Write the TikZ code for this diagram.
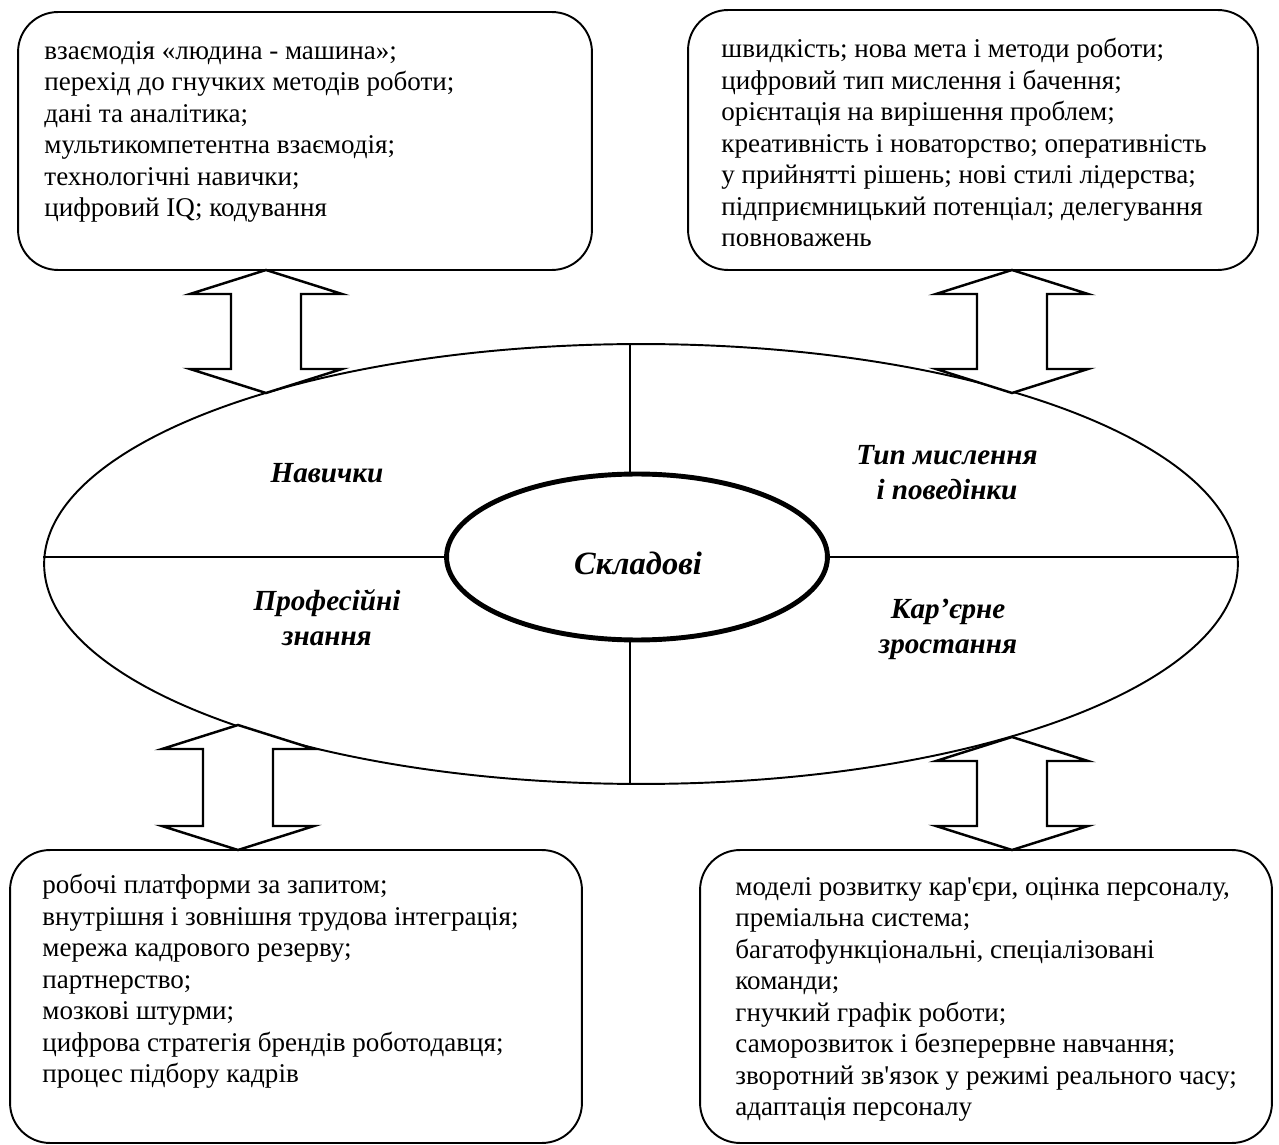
\documentclass[tikz,border=0pt]{standalone}
\usepackage{fontspec}
\setmainfont{Liberation Serif}[Ligatures=TeXOff]
\usetikzlibrary{positioning,shapes.geometric,calc}
\newcommand{\dblarrow}[2]{\draw[blockarrow] (#1) -- ++(-76,24) -- ++(41,0) -- ($(#2)+(-35,-24)$) -- ++(-41,0) -- (#2) -- ++(76,-24) -- ++(-41,0) -- ($(#1)+(35,24)$) -- ++(41,0) -- cycle;}

\begin{document}
\begin{tikzpicture}[x=0.02cm, y=-0.02cm, line join=miter]
\tikzstyle{box}=[rectangle, rounded corners=0.8cm, draw=black, line width=1.1pt, inner sep=0pt]
\tikzstyle{list}=[anchor=north west, inner sep=0pt, align=left, font=\fontsize{15.4}{17.9}\selectfont]
\tikzstyle{part}=[align=center, font=\fontsize{16.6}{19.9}\selectfont\bfseries\itshape]
\tikzstyle{blockarrow}=[draw=black, fill=white, line width=1.4pt]
\useasboundingbox (0,0) rectangle (1279,1145);
\node (skills) [box, minimum width=11.48cm, minimum height=5.16cm] at (305,141) {};
\node (mind) [box, minimum width=11.4cm, minimum height=5.2cm] at (973,140) {};
\node (know) [box, minimum width=11.44cm, minimum height=5.86cm] at (296,996.5) {};
\node (career) [box, minimum width=11.44cm, minimum height=5.86cm] at (986,996.5) {};
\node (skills-t) [list] at ([shift={(27,30)}]skills.north west) {взаємодія «людина - машина»;\\перехід до гнучких методів роботи;\\дані та аналітика;\\мультикомпетентна взаємодія;\\технологічні навички;\\цифровий IQ; кодування};
\node (mind-t) [list] at ([shift={(34,29)}]mind.north west) {швидкість; нова мета і методи роботи;\\цифровий тип мислення і бачення;\\орієнтація на вирішення проблем;\\креативність і новаторство; оперативність\\у прийнятті рішень; нові стилі лідерства;\\підприємницький потенціал; делегування\\повноважень};
\node (know-t) [list] at ([shift={(33,25)}]know.north west) {робочі платформи за запитом;\\внутрішня і зовнішня трудова інтеграція;\\мережа кадрового резерву;\\партнерство;\\мозкові штурми;\\цифрова стратегія брендів роботодавця;\\процес підбору кадрів};
\node (career-t) [list] at ([shift={(36,28)}]career.north west) {моделі розвитку кар'єри, оцінка персоналу,\\преміальна система;\\багатофункціональні, спеціалізовані\\команди;\\гнучкий графік роботи;\\саморозвиток і безперервне навчання;\\зворотний зв'язок у режимі реального часу;\\адаптація персоналу};
\node (whole) [draw, ellipse, line width=1.1pt, minimum width=23.88cm, minimum height=8.8cm, inner sep=0pt] at (641,564) {};
\draw[line width=1.1pt] (whole.west |- 0,557) -- (448,557);
\draw[line width=1.1pt] (827,557) -- (whole.east |- 0,557);
\draw[line width=1.1pt] (630,474) -- (whole.north -| 630,0);
\draw[line width=1.1pt] (630,640) -- (whole.south -| 630,0);
\node (core) [draw, ellipse, line width=2.8pt, minimum width=7.62cm, minimum height=3.32cm, inner sep=0pt] at (637,557) {};
\node (core-l) [part, font=\fontsize{18.5}{21}\selectfont\bfseries\itshape] at (638,563) {Складові};
\node (skills-l) [part] at (327,473) {Навички};
\node (mind-l) [part] at (947,473) {Тип мислення\\і поведінки};
\node (know-l) [part] at (327,618) {Професійні\\знання};
\node (career-l) [part] at (948,629) {Кар’єрне\\зростання};
\coordinate (skills-a) at (266,270);
\coordinate (skills-b) at (266,393);
\coordinate (mind-a) at (1012,270);
\coordinate (mind-b) at (1012,393);
\coordinate (know-a) at (238,725);
\coordinate (know-b) at (238,850);
\coordinate (career-a) at (1012,737);
\coordinate (career-b) at (1012,850);
\dblarrow{skills-a}{skills-b}
\dblarrow{mind-a}{mind-b}
\dblarrow{know-a}{know-b}
\dblarrow{career-a}{career-b}
\end{tikzpicture}
\end{document}
